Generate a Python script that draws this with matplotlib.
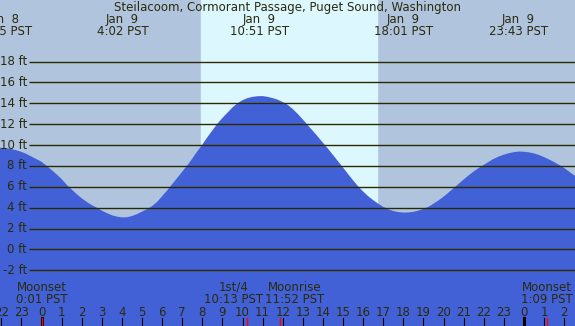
import matplotlib
matplotlib.use("Agg")
import matplotlib.pyplot as plt

# tide heights (ft) every quarter hour, hour 0 = midnight Jan 9 PST
tide_hours = [-2.07, -2.0, -1.75, -1.5, -1.25, -1.0, -0.75, -0.5, -0.25,
              0.0, 0.25, 0.5, 0.75, 1.0, 1.25, 1.5, 1.75, 2.0, 2.25, 2.5, 2.75,
              3.0, 3.25, 3.5, 3.75, 4.0, 4.25, 4.5, 4.75, 5.0, 5.25, 5.5, 5.75,
              6.0, 6.25, 6.5, 6.75, 7.0, 7.25, 7.5, 7.75, 8.0, 8.25, 8.5, 8.75,
              9.0, 9.25, 9.5, 9.75, 10.0, 10.25, 10.5, 10.75, 11.0, 11.25, 11.5, 11.75,
              12.0, 12.25, 12.5, 12.75, 13.0, 13.25, 13.5, 13.75, 14.0, 14.25, 14.5, 14.75,
              15.0, 15.25, 15.5, 15.75, 16.0, 16.25, 16.5, 16.75, 17.0, 17.25, 17.5, 17.75,
              18.0, 18.25, 18.5, 18.75, 19.0, 19.25, 19.5, 19.75, 20.0, 20.25, 20.5, 20.75,
              21.0, 21.25, 21.5, 21.75, 22.0, 22.25, 22.5, 22.75, 23.0, 23.25, 23.5, 23.75,
              24.0, 24.25, 24.5, 24.75, 25.0, 25.25, 25.5, 25.75, 26.0, 26.25, 26.5, 26.6]
tide_ft = [9.74, 9.73, 9.7, 9.62, 9.5, 9.35, 9.15, 8.9, 8.65,
           8.4, 8.02, 7.62, 7.2, 6.75, 6.2, 5.75, 5.3, 4.9, 4.55, 4.25, 4.0,
           3.72, 3.48, 3.28, 3.14, 3.07, 3.08, 3.2, 3.38, 3.62, 3.85, 4.15, 4.55,
           5.1, 5.65, 6.25, 6.85, 7.45, 8.05, 8.7, 9.4, 10.05, 10.75, 11.4, 12.05,
           12.6, 13.1, 13.6, 14.0, 14.3, 14.5, 14.62, 14.68, 14.69, 14.62, 14.5, 14.35,
           14.12, 13.85, 13.45, 12.98, 12.45, 11.9, 11.35, 10.8, 10.22, 9.65, 9.05, 8.45,
           7.85, 7.22, 6.62, 6.05, 5.55, 5.1, 4.72, 4.38, 4.08, 3.85, 3.68, 3.58,
           3.53, 3.54, 3.6, 3.72, 3.88, 4.08, 4.38, 4.7, 5.05, 5.45, 5.87, 6.28,
           6.7, 7.1, 7.47, 7.8, 8.1, 8.4, 8.68, 8.9, 9.08, 9.22, 9.32, 9.38,
           9.36, 9.3, 9.2, 9.05, 8.85, 8.62, 8.38, 8.1, 7.8, 7.45, 7.1, 7.0]

# high / low water labels
ext_hours = [-1.92, 4.033, 10.85, 18.017, 23.717]
ext_dates = ["Jan  8", "Jan  9", "Jan  9", "Jan  9", "Jan  9"]
ext_times = ["22:05 PST", "4:02 PST", "10:51 PST", "18:01 PST", "23:43 PST"]

sunrise, sunset = 7.94, 16.68

# moon events
moon_hours = [0.017, 10.217, 11.867, 25.15]
moon_names = ["Moonset", "1st/4", "Moonrise", "Moonset"]
moon_times = ["0:01 PST", "10:13 PST", "11:52 PST", "1:09 PST"]
moon_shift = [0, -13, 15, 0]  # label nudges (pixels) so the middle pair doesn't overlap
midnights = [0, 24]

ft_levels = list(range(-2, 20, 2))
hour_ticks = list(range(-2, 27))

title = "Steilacoom, Cormorant Passage, Puget Sound, Washington"

W, H = 575, 326
x0, x1 = -2.065, 26.54
y0, y1 = -7.34, 23.9
txt = "#2a2a0c"
fs = 8.5


def px2x(px):
    return x0 + px / W * (x1 - x0)


def px2y(py):
    return y1 - py / H * (y1 - y0)


fig = plt.figure(figsize=(W / 100, H / 100), dpi=100)
ax = fig.add_axes([0, 0, 1, 1])
ax.set_xlim(x0, x1)
ax.set_ylim(y0, y1)
ax.axis("off")
ax.add_patch(plt.Rectangle((x0, y0), x1 - x0, y1 - y0, color="#b0c4de", zorder=0))
ax.axvspan(sunrise, sunset, color="#ddf7ff", zorder=1)

ax.fill_between(tide_hours, y0, tide_ft, color="#4361d6", lw=0, zorder=2)

# level lines and labels
ax.hlines(ft_levels, px2x(29), x1, color="#2a2a00", lw=1.0, zorder=3)
for lv in ft_levels:
    ax.text(px2x(27), lv, f"{lv} ft", ha="right", va="center", fontsize=fs,
            color=txt, zorder=4)

# top labels
ax.text(px2x(W / 2), px2y(7.5), title, ha="center", va="center", fontsize=fs, color=txt)
for h, d, t in zip(ext_hours, ext_dates, ext_times):
    ax.text(h, px2y(19.5), d, ha="center", va="center", fontsize=fs, color=txt)
    ax.text(h, px2y(31.5), t, ha="center", va="center", fontsize=fs, color=txt)

# hour ticks along the bottom
tick_top = px2y(318)
for h in hour_ticks:
    ax.plot([h, h], [tick_top, y0], color="black", lw=0.8, zorder=4)
    ax.text(h, px2y(312), str(h % 24), ha="center", va="center", fontsize=fs,
            color=txt, zorder=5)
for m in midnights:
    ax.plot([m, m], [tick_top, y0], color="black", lw=2.2, zorder=4)

for h, n, t, s in zip(moon_hours, moon_names, moon_times, moon_shift):
    ax.plot([h + 0.02, h + 0.02], [tick_top, y0], color="red", lw=1.0, zorder=5)
    ax.annotate(n, (h, px2y(287.5)), xytext=(s, 0), textcoords="offset pixels",
                ha="center", va="center", fontsize=fs, color=txt, zorder=5)
    ax.annotate(t, (h, px2y(299.5)), xytext=(s, 0), textcoords="offset pixels",
                ha="center", va="center", fontsize=fs, color=txt, zorder=5)

fig.savefig("out.png", dpi=100)
